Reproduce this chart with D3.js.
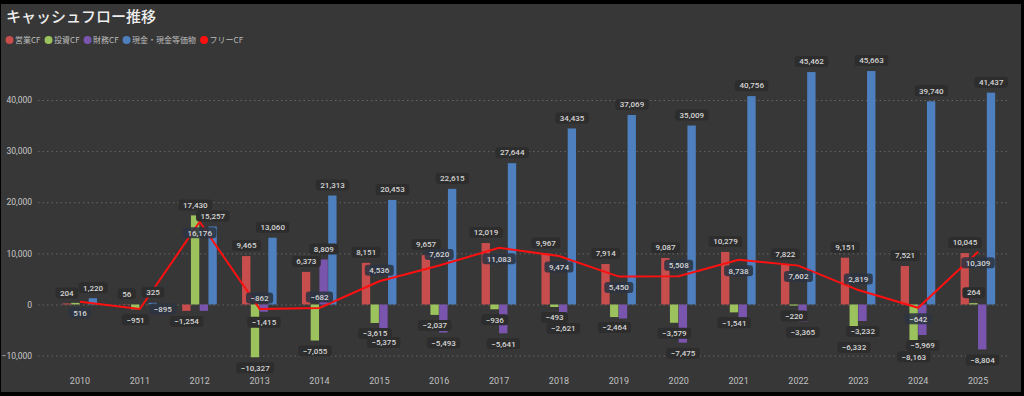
<!DOCTYPE html>
<html>
<head>
<meta charset="utf-8">
<script src="https://cdn.jsdelivr.net/npm/d3@7"></script>
<style>
  html, body { margin: 0; padding: 0; background: #000; }
  svg { display: block; }
</style>
</head>
<body>
<svg id="chart" width="1024" height="396"></svg>
<script>
// data (百万円)
const years = ['2010','2011','2012','2013','2014','2015','2016','2017','2018','2019','2020','2021','2022','2023','2024','2025'];
const operatingCF = [204, 56, -1254, 9465, 6373, 8151, 9657, 12019, 9967, 7914, 9087, 10279, 7822, 9151, 7521, 10045];
const investingCF = [312, -951, 17430, -10327, -7055, -3615, -2037, -936, -493, -2464, -3579, -1541, -220, -6332, -8163, 264];
const financingCF = [0, 0, -1244, -1415, 8809, -5375, -5493, -5641, -2621, -2750, -7475, -2500, -3365, -3232, -5969, -8804];
const cashBalance = [1220, 325, 15257, 13060, 21313, 20453, 22615, 27644, 34435, 37069, 35009, 40756, 45462, 45663, 39740, 41437];
const freeCF = [516, -895, 16176, -862, -682, 4536, 7620, 11083, 9474, 5450, 5508, 8738, 7602, 2819, -642, 10309];
const yTicks = [-10000, 0, 10000, 20000, 30000, 40000];

const seriesNames = ['営業CF', '投資CF', '財務CF', '現金・現金等価物'];
const seriesValues = [operatingCF, investingCF, financingCF, cashBalance];
const fcfName = 'フリーCF';

// labels Power BI dropped because of overlaps  (series index, year index)
const hiddenLabels = ['1-0', '2-0', '2-1', '2-2', '2-9', '2-11'];
// where the free CF label sits relative to its point
const fcfLabelSide = ['below','right','below','above','above','above','above','below','below','below','above','below','below','above','below','below'];

const colors = ['#c84d4d', '#9cc25e', '#7a55ae', '#4e80c0'];
const fcfColor = '#ff1010';

const svg = d3.select('#chart');
const numFmt = d3.format(',');
const jpFont = "'Noto Sans CJK JP', 'Noto Sans', sans-serif";
const numFont = "Roboto, 'DejaVu Sans', sans-serif";

// panel
svg.append('rect').attr('x', 1).attr('y', 4).attr('width', 1020).attr('height', 388).attr('fill', '#373737');

svg.append('text')
  .attr('x', 6).attr('y', 22)
  .attr('font-family', jpFont).attr('font-size', 15).attr('font-weight', 500)
  .attr('fill', '#eeeeee')
  .text('キャッシュフロー推移');

// legend
const legendItems = seriesNames.map((n, i) => ({ name: n, color: colors[i] })).concat([{ name: fcfName, color: fcfColor }]);
let lx = 9.5;
legendItems.forEach(item => {
  const g = svg.append('g').attr('transform', `translate(${lx},40)`);
  g.append('circle').attr('r', 4).attr('fill', item.color);
  const t = g.append('text')
    .attr('x', 5.5).attr('y', 3)
    .attr('font-family', jpFont).attr('font-size', 8)
    .attr('fill', '#bdbdbd')
    .text(item.name);
  lx += 5.5 + t.node().getComputedTextLength() + 8;
});

// scales
const xScale = d3.scaleBand().domain(years).range([50, 1008]);
const subScale = d3.scaleBand().domain(d3.range(seriesNames.length)).range([-17.5, 17.5]);
const yScale = d3.scaleLinear().domain([-10000, 40000]).range([355.6, 100]);
const cx = yr => xScale(yr) + xScale.bandwidth() / 2;

// grid + y axis
const yAxis = svg.append('g')
  .attr('transform', 'translate(38,0)')
  .call(d3.axisLeft(yScale).tickValues(yTicks).tickFormat(numFmt).tickSize(-(1008 - 38)).tickPadding(6));
yAxis.select('.domain').remove();
yAxis.selectAll('.tick line').attr('stroke', '#666').attr('stroke-dasharray', '1.5,3');
yAxis.selectAll('.tick text').attr('font-family', numFont).attr('font-size', 8.5).attr('fill', '#c8c8c8');

// x axis
const xAxis = svg.append('g')
  .attr('transform', 'translate(0,372)')
  .call(d3.axisBottom(xScale).tickSize(0).tickPadding(6));
xAxis.select('.domain').remove();
xAxis.selectAll('.tick text').attr('font-family', numFont).attr('font-size', 9).attr('fill', '#c0c0c0');

// bars
const barData = [];
seriesValues.forEach((vals, s) => {
  vals.forEach((v, i) => barData.push({ s, i, year: years[i], value: v }));
});

svg.append('g').selectAll('rect')
  .data(barData)
  .join('rect')
  .attr('x', d => cx(d.year) + subScale(d.s))
  .attr('width', subScale.bandwidth() - 0.4)
  .attr('y', d => yScale(Math.max(0, d.value)))
  .attr('height', d => Math.abs(yScale(d.value) - yScale(0)))
  .attr('fill', d => colors[d.s]);

// free CF line
const line = d3.line()
  .x((d, i) => cx(years[i]))
  .y(d => yScale(d));

svg.append('path')
  .datum(freeCF)
  .attr('d', line)
  .attr('fill', 'none')
  .attr('stroke', fcfColor)
  .attr('stroke-width', 2);

// data labels
const labelLayer = svg.append('g');
function addLabel(x, y, text, boxFill) {
  const g = labelLayer.append('g').attr('transform', `translate(${x},${y})`);
  const rect = g.append('rect').attr('fill', boxFill).attr('rx', 3);
  const t = g.append('text')
    .attr('text-anchor', 'middle').attr('dy', '0.35em')
    .attr('font-family', numFont).attr('font-size', 8).attr('font-weight', 500)
    .attr('fill', '#d6d6d6')
    .text(text);
  const w = t.node().getComputedTextLength() + 9;
  rect.attr('x', -w / 2).attr('y', -5.5).attr('width', w).attr('height', 11);
}

barData.forEach(d => {
  if (hiddenLabels.includes(`${d.s}-${d.i}`)) return;
  const x = cx(d.year) + subScale(d.s) + subScale.bandwidth() / 2;
  const y = d.value >= 0 ? yScale(d.value) - 10.5 : yScale(d.value) + 10.5;
  addLabel(x, y, numFmt(d.value), '#2d2d2d');
});

freeCF.forEach((v, i) => {
  const side = fcfLabelSide[i];
  let x = cx(years[i]);
  let y = yScale(v);
  if (side === 'above') y -= 11;
  else if (side === 'below') y += 11;
  else x += 23;
  addLabel(x, y, numFmt(v), 'rgba(44,52,66,0.88)');
});
</script>
</body>
</html>
